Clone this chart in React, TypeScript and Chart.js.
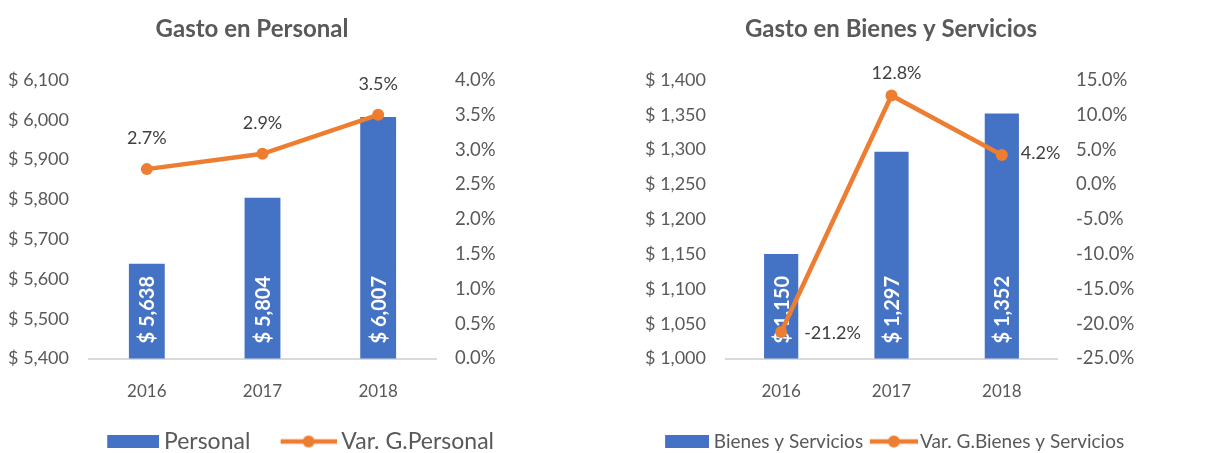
import React, { useEffect, useRef } from "react";
import { Chart, registerables } from "chart.js";

Chart.register(...registerables);

// ---------- data ----------
const years = ["2016", "2017", "2018"];
const personal = [5638, 5804, 6007];
const varPersonal = [2.72, 2.94, 3.5];
const bienes = [1150, 1297, 1352];
const varBienes = [-21.2, 12.78, 4.24];

// axis ranges: [min, max, step]
const personalAxis = [5400, 6100, 100];
const varPersonalAxis = [0, 4, 0.5];
const bienesAxis = [1000, 1400, 50];
const varBienesAxis = [-25, 15, 5];

const titles = ["Gasto en Personal", "Gasto en Bienes y Servicios"];
const barNames = ["Personal", "Bienes y Servicios"];
const lineNames = ["Var. G.Personal", "Var. G.Bienes y Servicios"];

// ---------- styles ----------
const BLUE = "#4472C4";
const ORANGE = "#ED7D31";
const GRAY = "#595959";
const DARK = "#404040";
const FONT = "Lato, 'Open Sans', sans-serif";
const PLOT_TOP = 80;
const PLOT_BOTTOM = 358.5;
const LEGEND_PAD = 10;

const money = (v: number) => "$ " + v.toLocaleString("en-US");
const pct = (v: number) => v.toFixed(1) + "%";

type Place = { dx: number; dy: number; align: CanvasTextAlign };
type Marker = { w: number; margin: number };

type Props = {
  left: number;
  width: number;
  height: number;
  title: string;
  titleX: number;
  barName: string;
  lineName: string;
  bars: number[];
  line: number[];
  yAxis: number[];
  y2Axis: number[];
  yWidth: number;
  plotRight: number;
  places: Place[];
  legendFont: number;
  legendBoxW: number;
  rectM: Marker;
  lineM: Marker;
};

function ComboChart(p: Props) {
  const ref = useRef<HTMLCanvasElement>(null);

  useEffect(() => {
    const canvas = ref.current!;
    const mkRect = (m: Marker, h: number) => {
      const c = document.createElement("canvas");
      c.width = Math.round(m.w + m.margin);
      c.height = h;
      const g = c.getContext("2d")!;
      g.fillStyle = BLUE;
      g.fillRect(m.margin, 0, m.w, h);
      return c;
    };
    const mkLine = (m: Marker, h: number) => {
      const c = document.createElement("canvas");
      c.width = Math.round(m.w + m.margin);
      c.height = h;
      const g = c.getContext("2d")!;
      g.strokeStyle = ORANGE;
      g.lineWidth = 4.5;
      g.beginPath();
      g.moveTo(m.margin, h / 2);
      g.lineTo(m.margin + m.w, h / 2);
      g.stroke();
      g.fillStyle = ORANGE;
      g.beginPath();
      g.arc(m.margin + m.w / 2, h / 2, 6, 0, Math.PI * 2);
      g.fill();
      return c;
    };
    const rectImg = mkRect(p.rectM, 13);
    const lineImg = mkLine(p.lineM, 14);
    const legendH = p.legendFont + LEGEND_PAD + 10;

    const labelsPlugin = {
      id: "valueLabels",
      afterDatasetDraw(chart: any, args: any) {
        const ctx = chart.ctx;
        const meta = chart.getDatasetMeta(args.index);
        const ds = chart.data.datasets[args.index];
        ctx.save();
        if (args.index === 1) {
          const base = chart.chartArea.bottom;
          ctx.font = `bold 20px ${FONT}`;
          ctx.fillStyle = "#FFFFFF";
          ctx.textAlign = "left";
          ctx.textBaseline = "middle";
          meta.data.forEach((el: any, i: number) => {
            ctx.save();
            ctx.translate(el.x + 1, base - 15);
            ctx.rotate(-Math.PI / 2);
            ctx.fillText(money(ds.data[i]), 0, 0);
            ctx.restore();
          });
        } else {
          ctx.font = `18px ${FONT}`;
          ctx.fillStyle = DARK;
          ctx.textBaseline = "middle";
          meta.data.forEach((el: any, i: number) => {
            const pl = p.places[i];
            ctx.textAlign = pl.align;
            ctx.fillText(pct(ds.data[i]), el.x + pl.dx, el.y + pl.dy);
          });
        }
        ctx.restore();
      },
    };

    const titlePlugin = {
      id: "customTitle",
      afterDraw(chart: any) {
        const ctx = chart.ctx;
        ctx.save();
        ctx.font = `bold 24px ${FONT}`;
        ctx.fillStyle = GRAY;
        ctx.textAlign = "center";
        ctx.textBaseline = "middle";
        ctx.fillText(p.title, p.titleX, 29);
        ctx.restore();
      },
    };

    const chart = new Chart(canvas, {
      type: "bar",
      data: {
        labels: years,
        datasets: [
          {
            type: "line",
            label: p.lineName,
            data: p.line,
            yAxisID: "y2",
            borderColor: ORANGE,
            backgroundColor: ORANGE,
            borderWidth: 4.5,
            pointRadius: 6,
            pointBackgroundColor: ORANGE,
            pointBorderColor: ORANGE,
            pointBorderWidth: 0,
            order: 0,
          } as any,
          {
            type: "bar",
            label: p.barName,
            data: p.bars,
            yAxisID: "y",
            backgroundColor: BLUE,
            categoryPercentage: 1,
            barPercentage: 0.31,
            order: 1,
          },
        ],
      },
      options: {
        animation: false,
        responsive: false,
        maintainAspectRatio: false,
        layout: { padding: { top: PLOT_TOP, left: 0, right: 0, bottom: 0 } },
        plugins: {
          tooltip: { enabled: false },
          title: { display: false },
          legend: {
            display: true,
            position: "bottom",
            align: "center",
            labels: {
              usePointStyle: true,
              pointStyleWidth: p.legendBoxW,
              padding: LEGEND_PAD,
              color: GRAY,
              font: { family: FONT, size: p.legendFont },
              generateLabels: () => [
                {
                  text: p.barName,
                  fillStyle: BLUE,
                  strokeStyle: BLUE,
                  lineWidth: 0,
                  pointStyle: rectImg as any,
                  hidden: false,
                  datasetIndex: 1,
                  fontColor: GRAY,
                },
                {
                  text: p.lineName,
                  fillStyle: ORANGE,
                  strokeStyle: ORANGE,
                  lineWidth: 0,
                  pointStyle: lineImg as any,
                  hidden: false,
                  datasetIndex: 0,
                  fontColor: GRAY,
                },
              ],
            },
          },
        },
        scales: {
          x: {
            grid: { display: false, drawTicks: false },
            border: { display: true, color: "#D9D9D9", width: 2 },
            ticks: {
              color: GRAY,
              font: { family: FONT, size: 17 },
              padding: 22.5,
            },
            afterFit: (s: any) => {
              s.height = p.height - legendH - PLOT_BOTTOM;
            },
          },
          y: {
            position: "left",
            min: p.yAxis[0],
            max: p.yAxis[1],
            grid: { display: false, drawTicks: false },
            border: { display: false },
            ticks: {
              stepSize: p.yAxis[2],
              color: GRAY,
              font: { family: FONT, size: 18 },
              padding: 20,
              callback: (v: any) => money(Number(v)),
            },
            afterFit: (s: any) => {
              s.width = p.yWidth;
            },
          },
          y2: {
            position: "right",
            min: p.y2Axis[0],
            max: p.y2Axis[1],
            grid: { display: false, drawTicks: false },
            border: { display: false },
            ticks: {
              stepSize: p.y2Axis[2],
              color: GRAY,
              font: { family: FONT, size: 18.5 },
              padding: 19,
              callback: (v: any) => pct(Number(v)),
            },
            afterFit: (s: any) => {
              s.width = p.width - p.plotRight;
            },
          },
        },
      },
      plugins: [labelsPlugin, titlePlugin],
    });
    return () => chart.destroy();
  }, []);

  return (
    <canvas
      ref={ref}
      width={p.width}
      height={p.height}
      style={{ position: "absolute", left: p.left, top: 0, width: p.width, height: p.height }}
    />
  );
}

export default function App() {
  return (
    <div
      style={{
        position: "absolute",
        left: 0,
        top: 0,
        width: 1227,
        height: 453,
        overflow: "hidden",
        background: "#FFFFFF",
      }}
    >
      <ComboChart
        left={0}
        width={577}
        height={463}
        title={titles[0]}
        titleX={252}
        barName={barNames[0]}
        lineName={lineNames[0]}
        bars={personal}
        line={varPersonal}
        yAxis={personalAxis}
        y2Axis={varPersonalAxis}
        yWidth={89}
        plotRight={436}
        places={[
          { dx: 0, dy: -31, align: "center" },
          { dx: 0, dy: -31, align: "center" },
          { dx: 0, dy: -31, align: "center" },
        ]}
        legendFont={23}
        legendBoxW={69.5}
        rectM={{ w: 52, margin: 31 }}
        lineM={{ w: 56, margin: 27 }}
      />
      <ComboChart
        left={614}
        width={563}
        height={461}
        title={titles[1]}
        titleX={277}
        barName={barNames[1]}
        lineName={lineNames[1]}
        bars={bienes}
        line={varBienes}
        yAxis={bienesAxis}
        y2Axis={varBienesAxis}
        yWidth={112}
        plotRight={443}
        places={[
          { dx: 23, dy: 1, align: "left" },
          { dx: 5, dy: -22, align: "center" },
          { dx: 19, dy: -2, align: "left" },
        ]}
        legendFont={19}
        legendBoxW={37.5}
        rectM={{ w: 44, margin: 3 }}
        lineM={{ w: 48, margin: 4 }}
      />
    </div>
  );
}
